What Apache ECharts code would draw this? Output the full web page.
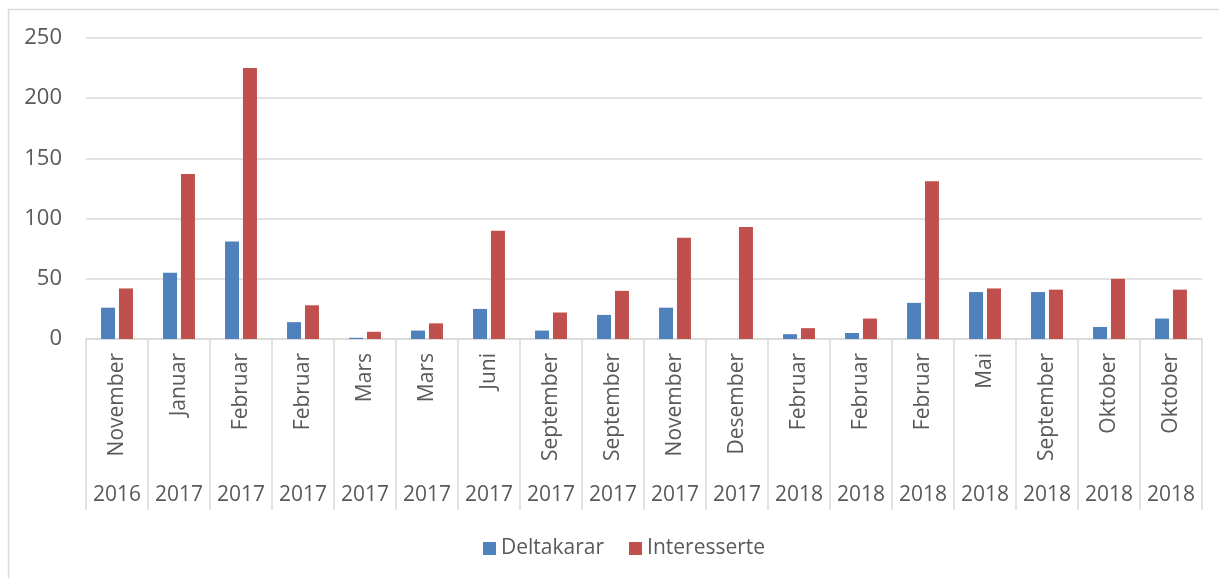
<!DOCTYPE html>
<html><head><meta charset="utf-8">
<script src="https://cdn.jsdelivr.net/npm/echarts@6/dist/echarts.min.js"></script>
<style>html,body{margin:0;padding:0;background:#fff}#c{width:1219px;height:578px}</style>
</head><body><div id="c"></div>
<script>
var months = ["November","Januar","Februar","Februar","Mars","Mars","Juni","September","September","November","Desember","Februar","Februar","Februar","Mai","September","Oktober","Oktober"];
var years = ["2016","2017","2017","2017","2017","2017","2017","2017","2017","2017","2017","2018","2018","2018","2018","2018","2018","2018"];
var deltakarar = [26,55,81,14,1,7,25,7,20,26,0,4,5,30,39,39,10,17];
var interesserte = [42,137,225,28,6,13,90,22,40,84,93,9,17,131,42,41,50,41];
var yTicks = {min:0, max:250, interval:50};

var txt = '#595959', line = '#d9d9d9', font = 'Open Sans';
var chart = echarts.init(document.getElementById('c'));
chart.setOption({
  animation:false,
  textStyle:{fontFamily:font},
  graphic:[{type:'rect', shape:{x:8.5,y:9.5,width:1400,height:800}, style:{fill:'none', stroke:line, lineWidth:1.5}, silent:true}],
  grid:{left:86, right:17, top:38, bottom:239},
  legend:{bottom:14, left:478, itemWidth:13, itemHeight:13, itemGap:25, icon:'rect',
    textStyle:{color:txt, fontSize:21, fontFamily:font}, data:['Deltakarar','Interesserte']},
  xAxis:[
    {type:'category', data:months, gridIndex:0,
     axisLine:{lineStyle:{color:line, width:1.5}}, axisTick:{show:false},
     axisLabel:{rotate:90, interval:0, margin:14, color:txt, fontSize:21, fontFamily:font}},
    {type:'category', data:years, gridIndex:0, position:'bottom',
     axisLine:{show:false},
     axisTick:{show:true, interval:0, length:171, lineStyle:{color:line, width:1.5}},
     axisLabel:{interval:0, margin:146, color:txt, fontSize:21, fontFamily:font}}
  ],
  yAxis:{type:'value', min:yTicks.min, max:yTicks.max, interval:yTicks.interval,
    axisLine:{show:false}, axisTick:{show:false},
    splitLine:{lineStyle:{color:line, width:1.5}},
    axisLabel:{margin:24, color:txt, fontSize:22, fontFamily:font}},
  series:[
    {name:'Deltakarar', type:'bar', xAxisIndex:0, data:deltakarar, barWidth:14, barGap:'28%', itemStyle:{color:'#4f81bd'}},
    {name:'Interesserte', type:'bar', xAxisIndex:0, data:interesserte, barWidth:14, barGap:'28%', itemStyle:{color:'#c0504d'}}
  ]
});
</script></body></html>
